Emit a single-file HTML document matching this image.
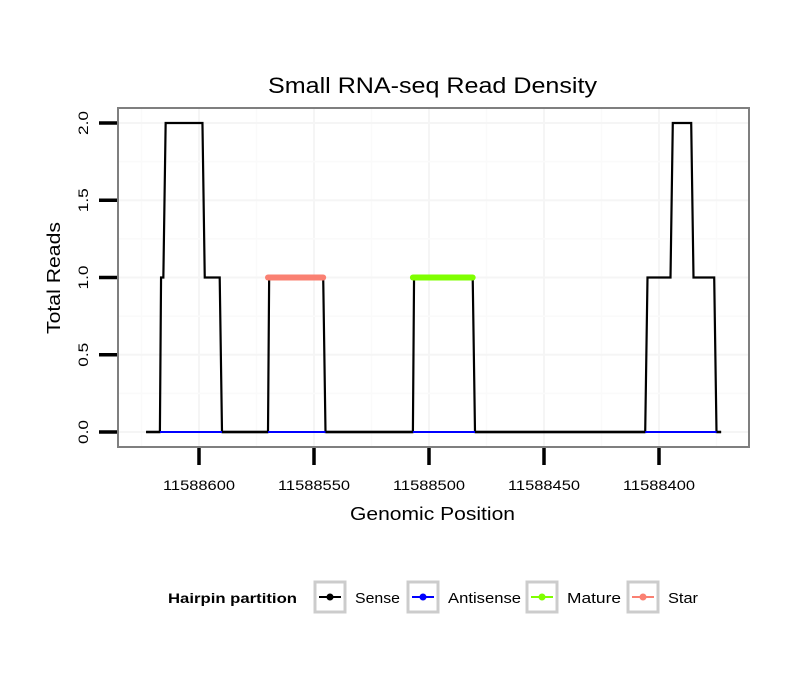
<!DOCTYPE html>
<html><head><meta charset="utf-8"><style>
body{margin:0;background:#fff}
svg{display:block;font-family:"Liberation Sans",sans-serif}
</style></head><body>
<svg id="chart" width="810" height="690" viewBox="0 0 810 690">
<rect width="810" height="690" fill="#fff"/>
<text x="268" y="93" font-size="22" textLength="329" lengthAdjust="spacingAndGlyphs" fill="#000">Small RNA-seq Read Density</text>
<g id="grid"></g>
<g id="series"></g>
<rect x="118" y="108" width="631" height="339" fill="none" stroke="#7f7f7f" stroke-width="2"/>
<g id="axes"></g>
<text x="350" y="520" font-size="18" textLength="165" lengthAdjust="spacingAndGlyphs">Genomic Position</text>
<text transform="translate(60,278) rotate(-90)" x="-56" font-size="18" textLength="112" lengthAdjust="spacingAndGlyphs">Total Reads</text>
<g id="legend">
<text x="168" y="603" font-size="14" font-weight="bold" textLength="129" lengthAdjust="spacingAndGlyphs">Hairpin partition</text>
</g>
</svg>
<script>
const xTicks=[11588600,11588550,11588500,11588450,11588400];
const yTicks=[0,0.5,1,1.5,2];
const yTickLabels=["0.0","0.5","1.0","1.5","2.0"];
const senseX=[11588623,11588617,11588616.5,11588615.5,11588614.5,11588598.5,11588597.5,11588591,11588590,11588570,11588569.5,11588546,11588545,11588507,11588506.5,11588481,11588480,11588406,11588405,11588395,11588394,11588386,11588385,11588376,11588375,11588373];
const senseY=[0,0,1,1,2,2,1,1,0,0,1,1,0,0,1,1,0,0,1,1,2,2,1,1,0,0];
const antisenseX=[11588617,11588375];
const antisenseY=[0,0];
const starX=[11588570,11588546];
const starY=[1,1];
const matureX=[11588507,11588481];
const matureY=[1,1];
const legendNames=["Sense","Antisense","Mature","Star"];
const legendColors=["#000000","#0000ff","#7fff00","#fa8072"];

const NS="http://www.w3.org/2000/svg";
const X=v=>199+(11588600-v)*2.3;
const Y=v=>432-v*154.5;
function mk(tag,attrs,parent){const e=document.createElementNS(NS,tag);for(const k in attrs)e.setAttribute(k,attrs[k]);parent.appendChild(e);return e;}
const grid=document.getElementById('grid'),series=document.getElementById('series'),axes=document.getElementById('axes'),legend=document.getElementById('legend');
for(let i=0;i<xTicks.length;i++){
  const x=X(xTicks[i]);
  const g=mk('line',{x1:x,x2:x,y1:109,y2:446,stroke:'#f5f5f5','stroke-width':2},grid);
  
  
}
for(let i=-1;i<xTicks.length;i++){
  const a=i<0?xTicks[0]+25:xTicks[i]-25;const x=X(a);
  if(x<119||x>748)continue;
  const g=mk('line',{x1:x,x2:x,y1:109,y2:446,stroke:'#fafafa','stroke-width':1.5},grid);
  
  
}
for(let i=0;i<yTicks.length;i++){
  const y=Y(yTicks[i]);
  const g=mk('line',{x1:119,x2:748,y1:y,y2:y,stroke:'#f5f5f5','stroke-width':2},grid);
  
  
  if(i<yTicks.length-1){const ym=Y((yTicks[i]+yTicks[i+1])/2);
  const m=mk('line',{x1:119,x2:748,y1:ym,y2:ym,stroke:'#fafafa','stroke-width':1.5},grid);
  
  }
}
function pts(xs,ys){return xs.map((v,i)=>X(v)+','+Y(ys[i])).join(' ');}
const sense=mk('polyline',{points:pts(senseX,senseY),fill:'none',stroke:'#000','stroke-width':2.2},series);


const anti=mk('polyline',{points:pts(antisenseX,antisenseY),fill:'none',stroke:'#0000ff','stroke-width':2},series);


const star=mk('polyline',{points:pts(starX,starY),fill:'none',stroke:'#fa8072','stroke-width':6,'stroke-linecap':'round'},series);


const mature=mk('polyline',{points:pts(matureX,matureY),fill:'none',stroke:'#7fff00','stroke-width':6,'stroke-linecap':'round'},series);


const gaps=[[11588590,11588570],[11588545,11588507],[11588480,11588406],[11588623,11588617]];
for(const g of gaps){
  const s=mk('line',{x1:X(g[0]),x2:X(g[1]),y1:Y(0),y2:Y(0),stroke:'#000','stroke-width':2.4},series);
  
  
}
const tail=mk('line',{x1:X(11588375),x2:X(11588373),y1:Y(0),y2:Y(0),stroke:'#000','stroke-width':2.4},series);


for(let i=0;i<xTicks.length;i++){
  const x=X(xTicks[i]);
  const t=mk('line',{x1:x,x2:x,y1:448,y2:465,stroke:'#000','stroke-width':3.5},axes);
  
  
  const l=mk('text',{x:x-36,y:490,'font-size':14,textLength:72,lengthAdjust:'spacingAndGlyphs'},axes);
  l.textContent=String(xTicks[i]);
  
  
}
for(let i=0;i<yTicks.length;i++){
  const y=Y(yTicks[i]);
  const t=mk('line',{x1:99,x2:117,y1:y,y2:y,stroke:'#000','stroke-width':3.5},axes);
  
  
  const l=mk('text',{transform:`translate(88,${y}) rotate(-90)`,x:-12,'font-size':14,textLength:24,lengthAdjust:'spacingAndGlyphs'},axes);
  l.textContent=yTickLabels[i];
  
  
}
const keyX=[315,408,527,628];
const labelW=[45,73,54,30];
for(let i=0;i<legendNames.length;i++){
  const kx=keyX[i];
  const b=mk('rect',{x:kx,y:582,width:30,height:30,fill:'#fff',stroke:'#cccccc','stroke-width':3},legend);
  
  
  const ln=mk('line',{x1:kx+4,x2:kx+26,y1:597,y2:597,stroke:legendColors[i],'stroke-width':2},legend);
  
  
  const c=mk('circle',{cx:kx+15,cy:597,r:3.5,fill:legendColors[i]},legend);
  
  
  const tx=mk('text',{x:kx+40,y:603,'font-size':15,textLength:labelW[i],lengthAdjust:'spacingAndGlyphs'},legend);
  tx.textContent=legendNames[i];
  
  
}
</script>
</body></html>
